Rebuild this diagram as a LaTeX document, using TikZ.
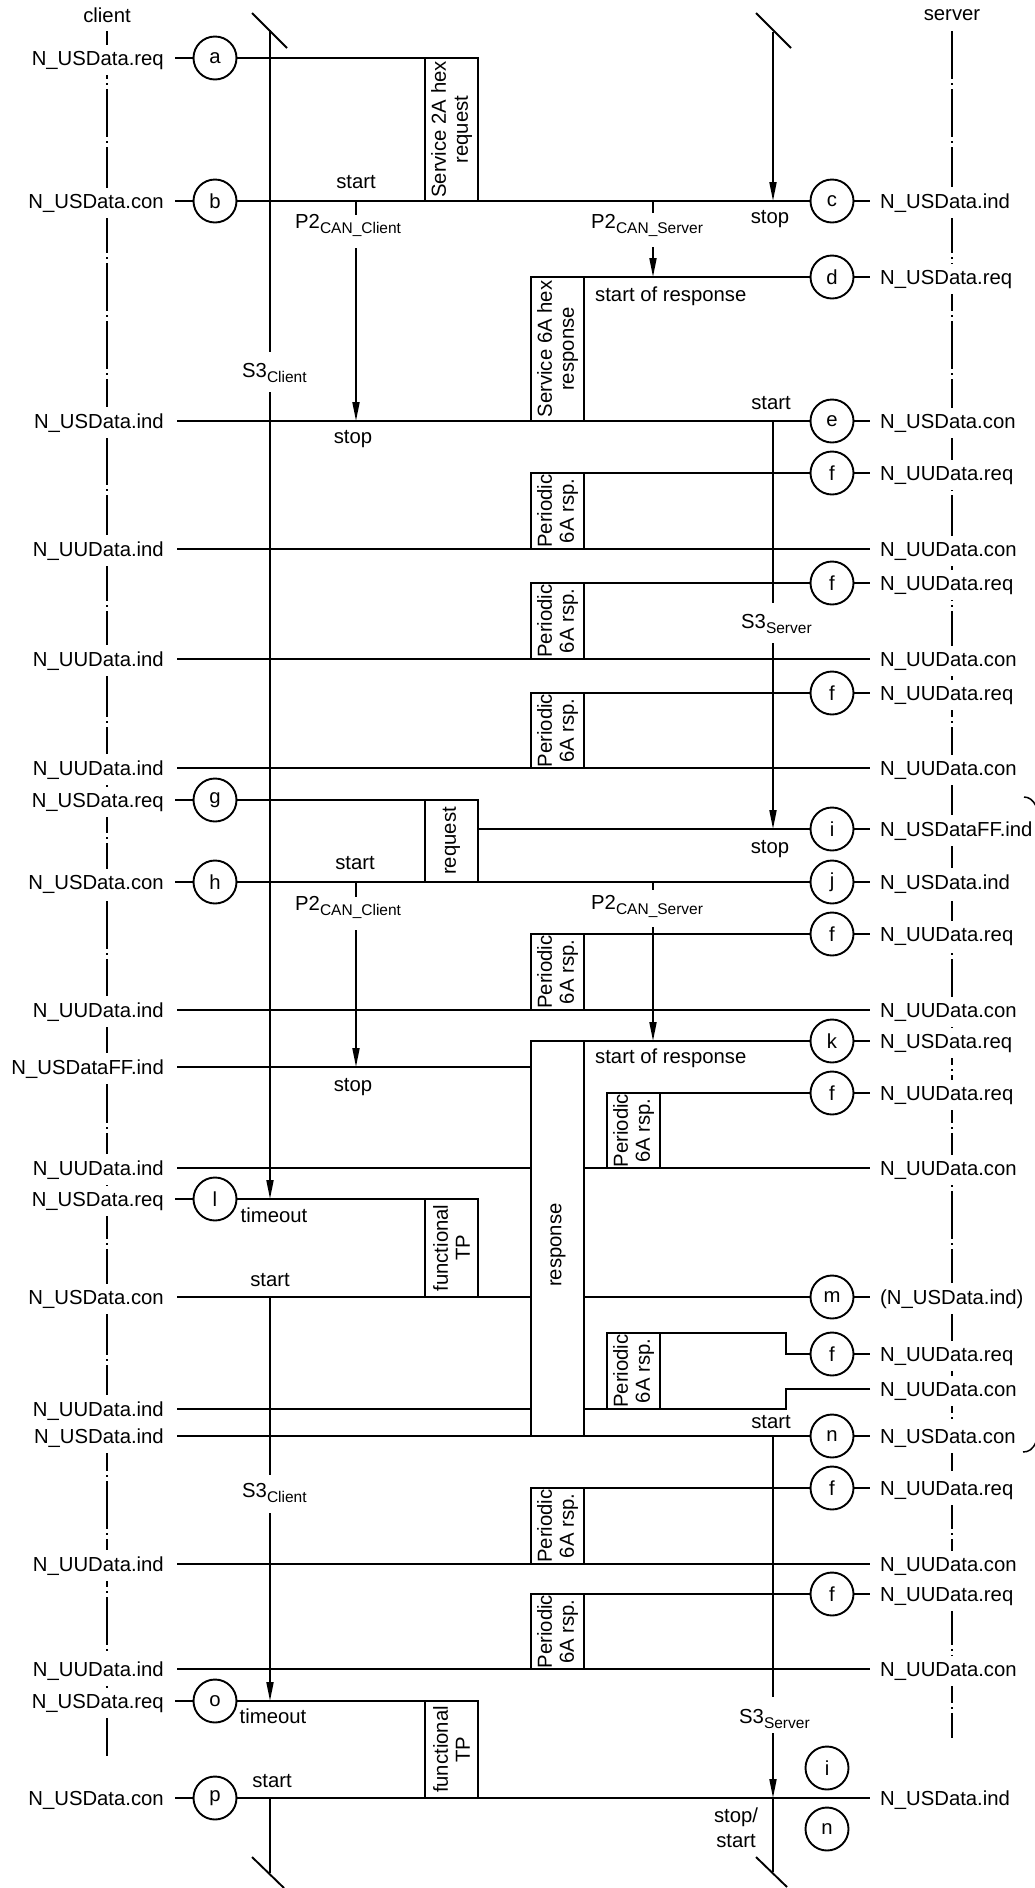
\documentclass[tikz,border=0pt]{standalone}
\usepackage{fontspec}
\setmainfont{Liberation Sans}
\usetikzlibrary{arrows.meta,fit}
\newcommand\lab{\fontsize{20.3}{22}\selectfont}
\newcommand\subl[1]{\raisebox{-5pt}{\fontsize{15.5}{16}\selectfont #1}}
\tikzset{
  ln/.style={line width=1.9pt},
  circ/.style={circle, draw, line width=1.9pt, minimum size=43pt, inner sep=0pt, font=\lab, fill=white},
  cl/.style={anchor=base east, font=\lab, fill=white, inner xsep=1pt, inner ysep=6pt},
  sl/.style={anchor=base west, font=\lab, fill=white, inner xsep=1pt, inner ysep=6pt},
  tl/.style={anchor=base, font=\lab, inner sep=0pt},
  tlw/.style={anchor=base west, font=\lab, inner sep=0pt},
  boxd/.style={draw, line width=1.9pt, inner sep=0pt},
  rot/.style={rotate=90, align=center, font=\lab, inner sep=0pt},
  arr/.style={line width=1.9pt, -{Triangle[length=19pt,width=7pt]}},
  life/.style={line width=1.9pt, dash pattern=on 48pt off 4pt on 2pt off 4pt},
}
\begin{document}
\begin{tikzpicture}[x=1pt,y=-1pt]
\useasboundingbox (0,0) rectangle (1034,1888);
% lifelines
\draw[life] (107,31) -- (107,1756);
\draw[life] (952,31) -- (952,1738);
\node[font=\lab] (client) at (107,15) {client};
\node[font=\lab] (server) at (952,15) {server};
% client labels
\foreach \n/\y/\t in {L1/58/N\_USData.req, L2/201/N\_USData.con, L3/421/N\_USData.ind, L4/549/N\_UUData.ind, L5/659/N\_UUData.ind, L6/768/N\_UUData.ind, L7/800/N\_USData.req, L8/882/N\_USData.con, L9/1010/N\_UUData.ind, L10/1067/N\_USDataFF.ind, L11/1168/N\_UUData.ind, L12/1199/N\_USData.req, L13/1297/N\_USData.con, L14/1409/N\_UUData.ind, L15/1436/N\_USData.ind, L16/1564/N\_UUData.ind, L17/1669/N\_UUData.ind, L18/1701/N\_USData.req, L19/1798/N\_USData.con}
  \node[cl] (\n) at (165,\y+7) {\t};
% server labels
\foreach \n/\y/\t in {R1/201/N\_USData.ind, R2/277/N\_USData.req, R3/421/N\_USData.con, R4/473/N\_UUData.req, R5/549/N\_UUData.con, R6/583/N\_UUData.req, R7/659/N\_UUData.con, R8/693/N\_UUData.req, R9/768/N\_UUData.con, R10/829/N\_USDataFF.ind, R11/882/N\_USData.ind, R12/934/N\_UUData.req, R13/1010/N\_UUData.con, R14/1041/N\_USData.req, R15/1093/N\_UUData.req, R16/1168/N\_UUData.con, R17/1297/{(N\_USData.ind)}, R18/1354/N\_UUData.req, R19/1389/N\_UUData.con, R20/1436/N\_USData.con, R21/1488/N\_UUData.req, R22/1564/N\_UUData.con, R23/1594/N\_UUData.req, R24/1669/N\_UUData.con, R25/1798/N\_USData.ind}
  \node[sl] (\n) at (879,\y+7) {\t};
% client circles
\foreach \n/\y in {a/58, b/201, g/800, h/882, l/1199, o/1701, p/1798}{
  \node[circ] (\n) at (215,\y) {\n};
  \draw[ln] (175,\y) -- (\n.west);
}
% server circles
\foreach \n/\y/\t in {c/201/c, d/277/d, e/421/e, f1/473/f, f2/583/f, f3/693/f, i/829/i, j/882/j, f4/934/f, k/1041/k, f5/1093/f, m/1297/m, f6/1354/f, n/1436/n, f7/1488/f, f8/1594/f}{
  \node[circ] (\n) at (832,\y) {\t};
  \draw[ln] (\n.east) -- (870,\y);
}
\node[circ] (i2) at (827,1768) {i};
\node[circ] (n2) at (827,1829) {n};
% boxes
\node[boxd, fit={(425,58) (478,201)}] (s2a) {};
\node[rot] at (s2a.center) {Service 2A hex\\request};
\node[boxd, fit={(531,277) (584,421)}] (s6a) {};
\node[rot] at (s6a.center) {Service 6A hex\\response};
\foreach \n/\ya/\yb in {p1/473/549, p2/583/659, p3/693/768, p4/934/1010, p7/1488/1564, p8/1594/1669}{
  \node[boxd, fit={(531,\ya) (584,\yb)}] (\n) {};
  \node[rot] at (\n.center) {Periodic\\6A rsp.};
}
\foreach \n/\ya/\yb in {p5/1093/1168, p6/1333/1409}{
  \node[boxd, fit={(607,\ya) (660,\yb)}] (\n) {};
  \node[rot] at (\n.center) {Periodic\\6A rsp.};
}
\node[boxd, fit={(425,800) (478,882)}] (req) {};
\node[rot] at (req.center) {request};
\node[boxd, fit={(531,1041) (584,1436)}] (resp) {};
\node[rot] at (558,1245) {response};
\node[boxd, fit={(425,1199) (478,1297)}] (tp1) {};
\node[rot] at (tp1.center) {functional\\TP};
\node[boxd, fit={(425,1701) (478,1798)}] (tp2) {};
\node[rot] at (tp2.center) {functional\\TP};
% horizontal signal lines
\draw[ln] (a.east) -- (478,58);
\draw[ln] (b.east) -- (c.west);
\draw[ln] (531,277) -- (d.west);
\draw[ln] (177,421) -- (e.west);
\draw[ln] (531,473) -- (f1.west);
\draw[ln] (177,549) -- (870,549);
\draw[ln] (531,583) -- (f2.west);
\draw[ln] (177,659) -- (870,659);
\draw[ln] (531,693) -- (f3.west);
\draw[ln] (177,768) -- (870,768);
\draw[ln] (g.east) -- (478,800);
\draw[ln] (478,829) -- (i.west);
\draw[ln] (h.east) -- (j.west);
\draw[ln] (531,934) -- (f4.west);
\draw[ln] (177,1010) -- (870,1010);
\draw[ln] (531,1041) -- (k.west);
\draw[ln] (177,1067) -- (531,1067);
\draw[ln] (607,1093) -- (f5.west);
\draw[ln] (177,1168) -- (531,1168);
\draw[ln] (584,1168) -- (870,1168);
\draw[ln] (l.east) -- (478,1199);
\draw[ln] (177,1297) -- (531,1297);
\draw[ln] (584,1297) -- (m.west);
\draw[ln] (607,1333) -- (786,1333) -- (786,1354) -- (f6.west);
\draw[ln] (870,1389) -- (786,1389) -- (786,1409) -- (584,1409);
\draw[ln] (177,1409) -- (531,1409);
\draw[ln] (177,1436) -- (n.west);
\draw[ln] (531,1488) -- (f7.west);
\draw[ln] (177,1564) -- (870,1564);
\draw[ln] (531,1594) -- (f8.west);
\draw[ln] (177,1669) -- (870,1669);
\draw[ln] (o.east) -- (478,1701);
\draw[ln] (p.east) -- (870,1798);
% client timers
\draw[ln] (252,13) -- (287,48);
\draw[ln] (270,30) -- (270,352);
\node[tlw] (s3c1) at (242,377) {S3\subl{Client}};
\draw[arr] (270,392) -- (270,1199);
\draw[ln] (356,201) -- (356,215);
\node[tlw] (p2c1) at (295,228) {P2\subl{CAN\_Client}};
\draw[arr] (356,248) -- (356,421);
\draw[ln] (356,882) -- (356,897);
\node[tlw] (p2c2) at (295,910) {P2\subl{CAN\_Client}};
\draw[arr] (356,930) -- (356,1067);
\draw[ln] (270,1297) -- (270,1475);
\node[tlw] (s3c2) at (242,1497) {S3\subl{Client}};
\draw[arr] (270,1513) -- (270,1701);
\draw[ln] (270,1798) -- (270,1873);
\draw[ln] (252,1857) -- (284,1888);
% server timers
\draw[ln] (756,13) -- (791,48);
\draw[arr] (773,32) -- (773,201);
\draw[ln] (653,201) -- (653,213);
\node[tlw] (p2s1) at (591,228) {P2\subl{CAN\_Server}};
\draw[arr] (653,247) -- (653,277);
\draw[ln] (773,421) -- (773,603);
\node[tlw] (s3s1) at (741,628) {S3\subl{Server}};
\draw[arr] (773,643) -- (773,829);
\draw[ln] (653,882) -- (653,890);
\node[tlw] (p2s2) at (591,909) {P2\subl{CAN\_Server}};
\draw[arr] (653,927) -- (653,1041);
\draw[ln] (773,1436) -- (773,1697);
\node[tlw] (s3s2) at (739,1723) {S3\subl{Server}};
\draw[arr] (773,1733) -- (773,1798);
\draw[ln] (773,1798) -- (773,1872);
\draw[ln] (756,1857) -- (787,1887);
% timer event texts
\node[tl] (t1) at (356,188) {start};
\node[tl] (t2) at (770,223) {stop};
\node[tl] (t3) at (353,443) {stop};
\node[tl] (t4) at (771,409) {start};
\node[tl] (t5) at (770,853) {stop};
\node[tl] (t6) at (355,869) {start};
\node[tl] (t7) at (353,1091) {stop};
\node[tl] (t8) at (274,1222) {timeout};
\node[tl] (t9) at (270,1286) {start};
\node[tl] (t10) at (771,1428) {start};
\node[tl] (t11) at (273,1723) {timeout};
\node[tl] (t12) at (272,1787) {start};
\node[tl] (t13) at (736,1822) {stop/};
\node[tl] (t14) at (736,1847) {start};
\node[tlw] (sor1) at (595,301) {start of response};
\node[tlw] (sor2) at (595,1063) {start of response};
% brace ends at right edge
\draw[line width=1.5pt] (1024,797) .. controls (1029,797) and (1033,800) .. (1036,806);
\draw[line width=1.5pt] (1023,1452) .. controls (1029,1452) and (1033,1449) .. (1036,1442);
\end{tikzpicture}
\end{document}
